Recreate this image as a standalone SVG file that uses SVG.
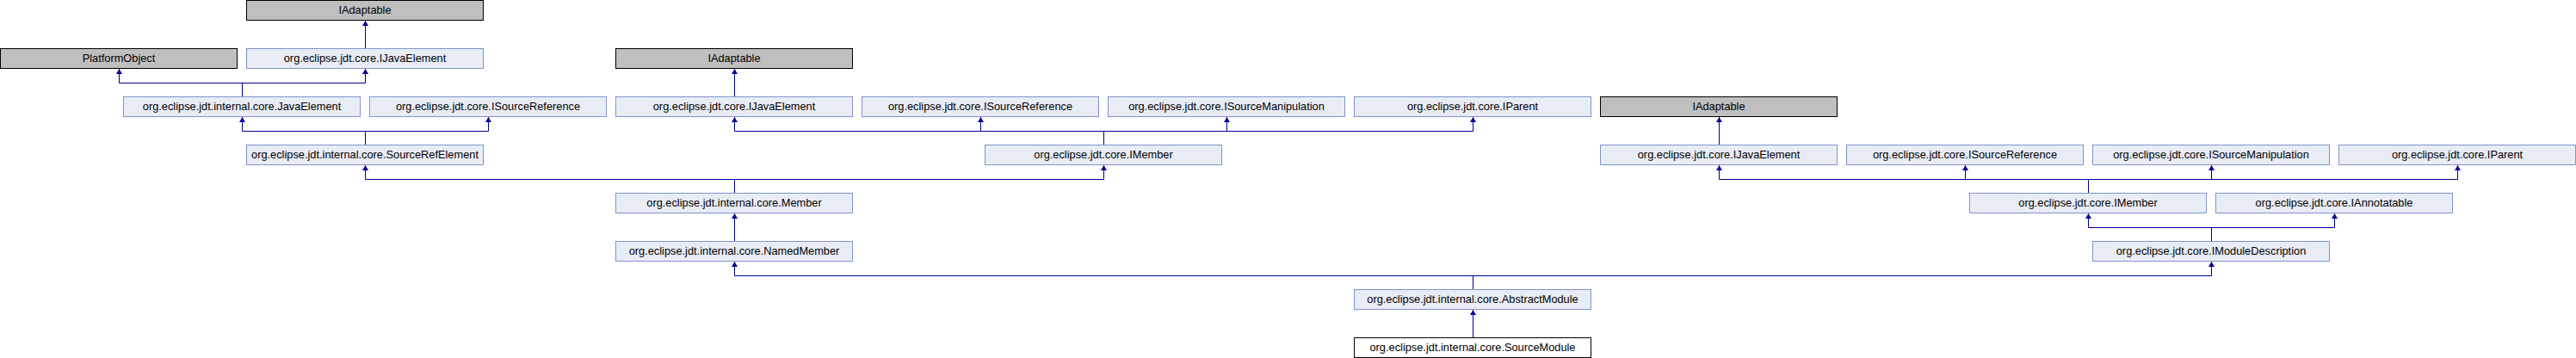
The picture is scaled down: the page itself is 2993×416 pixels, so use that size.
<svg xmlns="http://www.w3.org/2000/svg" width="2993" height="416" viewBox="0 0 2993 416">
<style>
rect.n{fill:#E8ECF5;stroke:#7F94CB;stroke-width:1}
rect.x{fill:#BFBFBF;stroke:#000;stroke-width:1}
rect.s{fill:#FFFFFF;stroke:#000;stroke-width:1}
text{font-family:"Liberation Sans",Arial,sans-serif;font-size:12.8px;fill:#000;text-anchor:middle}
.c path{fill:none;stroke:#00009A;stroke-width:1}
.c path.a{marker-end:url(#arr)}
</style>
<defs>
<marker id="arr" viewBox="0 0 6 7" refX="6" refY="3.5" markerWidth="6" markerHeight="7" markerUnits="userSpaceOnUse" orient="auto">
<path d="M0,0 L6,3.5 L0,7 z" fill="#00009A"/>
</marker>
</defs>
<rect width="2993" height="416" fill="#FFFFFF"/>
<g id="connectors" class="c">
<path class="a" d="M424.5,56 V24"/>
<path d="M281.5,112 V96.5 M138.5,96.5 H424.5"/>
<path class="a" d="M138.5,96.5 V80"/><path class="a" d="M424.5,96.5 V80"/>
<path d="M424.5,168 V152.5 M281.5,152.5 H567.5"/>
<path class="a" d="M281.5,152.5 V136"/><path class="a" d="M567.5,152.5 V136"/>
<path class="a" d="M853.5,112 V80"/>
<path d="M1282.5,168 V152.5 M853.5,152.5 H1711.5"/>
<path class="a" d="M853.5,152.5 V136"/><path class="a" d="M1139.5,152.5 V136"/><path class="a" d="M1425.5,152.5 V136"/><path class="a" d="M1711.5,152.5 V136"/>
<path d="M853.5,224 V208.5 M424.5,208.5 H1282.5"/>
<path class="a" d="M424.5,208.5 V192"/><path class="a" d="M1282.5,208.5 V192"/>
<path class="a" d="M853.5,280 V248"/>
<path class="a" d="M1997.5,168 V136"/>
<path d="M2426.5,224 V208.5 M1997.5,208.5 H2855.5"/>
<path class="a" d="M1997.5,208.5 V192"/><path class="a" d="M2283.5,208.5 V192"/><path class="a" d="M2569.5,208.5 V192"/><path class="a" d="M2855.5,208.5 V192"/>
<path d="M2569.5,280 V264.5 M2426.5,264.5 H2712.5"/>
<path class="a" d="M2426.5,264.5 V248"/><path class="a" d="M2712.5,264.5 V248"/>
<path d="M1711.5,336 V320.5 M853.5,320.5 H2569.5"/>
<path class="a" d="M853.5,320.5 V304"/><path class="a" d="M2569.5,320.5 V304"/>
<path class="a" d="M1711.5,392 V360"/>
</g>
<g id="IAdaptable_1"><rect class="x" x="286.5" y="0.5" width="275" height="23"/><text x="424" y="16">IAdaptable</text></g>
<g id="PlatformObject"><rect class="x" x="0.5" y="56.5" width="275" height="23"/><text x="138" y="72">PlatformObject</text></g>
<g id="IJavaElement_1"><rect class="n" x="286.5" y="56.5" width="275" height="23"/><text x="424" y="72">org.eclipse.jdt.core.IJavaElement</text></g>
<g id="IAdaptable_2"><rect class="x" x="715.5" y="56.5" width="275" height="23"/><text x="853" y="72">IAdaptable</text></g>
<g id="JavaElement"><rect class="n" x="143.5" y="112.5" width="275" height="23"/><text x="281" y="128">org.eclipse.jdt.internal.core.JavaElement</text></g>
<g id="ISourceReference_1"><rect class="n" x="429.5" y="112.5" width="275" height="23"/><text x="567" y="128">org.eclipse.jdt.core.ISourceReference</text></g>
<g id="IJavaElement_2"><rect class="n" x="715.5" y="112.5" width="275" height="23"/><text x="853" y="128">org.eclipse.jdt.core.IJavaElement</text></g>
<g id="ISourceReference_2"><rect class="n" x="1001.5" y="112.5" width="275" height="23"/><text x="1139" y="128">org.eclipse.jdt.core.ISourceReference</text></g>
<g id="ISourceManipulation_2"><rect class="n" x="1287.5" y="112.5" width="275" height="23"/><text x="1425" y="128">org.eclipse.jdt.core.ISourceManipulation</text></g>
<g id="IParent_2"><rect class="n" x="1573.5" y="112.5" width="275" height="23"/><text x="1711" y="128">org.eclipse.jdt.core.IParent</text></g>
<g id="IAdaptable_3"><rect class="x" x="1859.5" y="112.5" width="275" height="23"/><text x="1997" y="128">IAdaptable</text></g>
<g id="SourceRefElement"><rect class="n" x="286.5" y="168.5" width="275" height="23"/><text x="424" y="184">org.eclipse.jdt.internal.core.SourceRefElement</text></g>
<g id="IMember_2"><rect class="n" x="1144.5" y="168.5" width="275" height="23"/><text x="1282" y="184">org.eclipse.jdt.core.IMember</text></g>
<g id="IJavaElement_3"><rect class="n" x="1859.5" y="168.5" width="275" height="23"/><text x="1997" y="184">org.eclipse.jdt.core.IJavaElement</text></g>
<g id="ISourceReference_3"><rect class="n" x="2145.5" y="168.5" width="275" height="23"/><text x="2283" y="184">org.eclipse.jdt.core.ISourceReference</text></g>
<g id="ISourceManipulation_3"><rect class="n" x="2431.5" y="168.5" width="275" height="23"/><text x="2569" y="184">org.eclipse.jdt.core.ISourceManipulation</text></g>
<g id="IParent_3"><rect class="n" x="2717.5" y="168.5" width="275" height="23"/><text x="2855" y="184">org.eclipse.jdt.core.IParent</text></g>
<g id="Member"><rect class="n" x="715.5" y="224.5" width="275" height="23"/><text x="853" y="240">org.eclipse.jdt.internal.core.Member</text></g>
<g id="IMember_3"><rect class="n" x="2288.5" y="224.5" width="275" height="23"/><text x="2426" y="240">org.eclipse.jdt.core.IMember</text></g>
<g id="IAnnotatable"><rect class="n" x="2574.5" y="224.5" width="275" height="23"/><text x="2712" y="240">org.eclipse.jdt.core.IAnnotatable</text></g>
<g id="NamedMember"><rect class="n" x="715.5" y="280.5" width="275" height="23"/><text x="853" y="296">org.eclipse.jdt.internal.core.NamedMember</text></g>
<g id="IModuleDescription"><rect class="n" x="2431.5" y="280.5" width="275" height="23"/><text x="2569" y="296">org.eclipse.jdt.core.IModuleDescription</text></g>
<g id="AbstractModule"><rect class="n" x="1573.5" y="336.5" width="275" height="23"/><text x="1711" y="352">org.eclipse.jdt.internal.core.AbstractModule</text></g>
<g id="SourceModule"><rect class="s" x="1573.5" y="392.5" width="275" height="23"/><text x="1711" y="408">org.eclipse.jdt.internal.core.SourceModule</text></g>
</svg>
